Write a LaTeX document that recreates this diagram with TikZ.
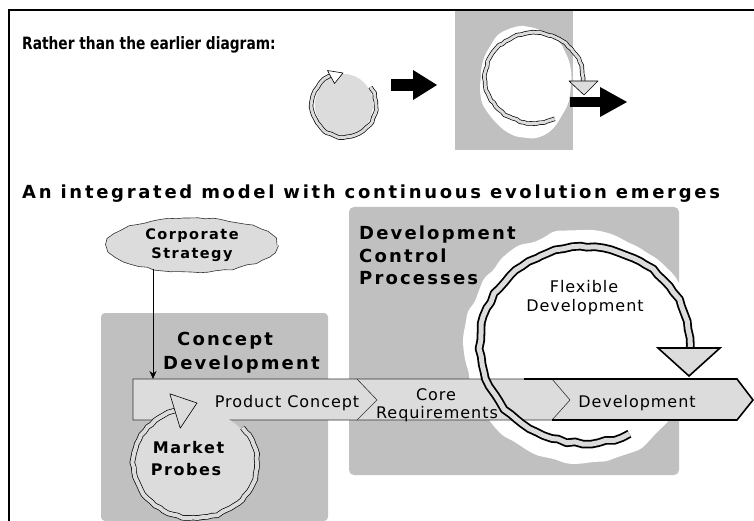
\documentclass[tikz,border=0pt]{standalone}
\usepackage{graphicx}
\usepackage{fontspec}
\setmainfont{DejaVu Sans}
\newfontfamily\ttlA{DejaVu Sans}
\newfontfamily\ttlB[LetterSpace=15]{DejaVu Sans}
\newfontfamily\headfont[LetterSpace=12]{DejaVu Sans}
\newfontfamily\csfont[LetterSpace=10]{DejaVu Sans}
\newfontfamily\labfont[LetterSpace=6]{DejaVu Sans}
\usetikzlibrary{decorations.pathmorphing,shapes.geometric,calc,arrows.meta}
\definecolor{boxgray}{HTML}{C0C0C0}
\definecolor{lite}{HTML}{DCDCDC}
\definecolor{edgec}{HTML}{333333}
\begin{document}
\begin{tikzpicture}[x=1pt,y=-1pt,
  ribbonS/.style={line width=0.7pt, double=lite, double distance=3pt, line join=round,
    decorate, decoration={random steps, segment length=4pt, amplitude=0.8pt}},
  ribbonM/.style={line width=0.7pt, double=lite, double distance=4pt, line join=round,
    decorate, decoration={random steps, segment length=5pt, amplitude=0.9pt}},
  ribbonL/.style={line width=1.8pt, double=lite, double distance=5pt, line join=round,
    decorate, decoration={random steps, segment length=8pt, amplitude=1.1pt}},
  blobfill/.style={decorate, decoration={random steps, segment length=12pt, amplitude=2.5pt}, rounded corners=5pt},
  headtxt/.style={anchor=base west, inner sep=0, font=\headfont\bfseries\fontsize{18}{21}\selectfont},
  labtxt/.style={anchor=base, inner sep=0, font=\labfont\fontsize{16}{18}\selectfont},
  bandsec/.style={fill=lite, draw=edgec, line width=0.6pt, line join=miter},
  headtip/.style={fill=lite, draw=black, line join=round},
  blackarrow/.style={fill=black}
]
\useasboundingbox (0,0) rectangle (754,521);
\fill[white] (0,0) rectangle (754,521);

% frame
\draw[line width=2pt] (8.5,521) -- (8.5,10) -- (754,10);

% ---------- top part ----------
\node[anchor=base west, inner sep=0, font=\ttlA\bfseries\fontsize{17}{20}\selectfont] (t1) at (22,50) {\scalebox{0.81}[1]{Rather than the earlier diagram:}};

% small cycle
\fill[lite] (344,105) ellipse [x radius=29, y radius=31];
\draw[ribbonS] ($(344,105)+(-34:32)$) arc[start angle=-34, end angle=245, radius=32];
\draw[headtip, line width=0.6pt, fill=white] (327.5,70.5) -- (343,73) -- (334.5,83.5) -- cycle;

% black arrow 1
\fill[blackarrow] (391,79) rectangle (414,91);
\fill[blackarrow] (413,70) -- (437,85) -- (413,100) -- cycle;

% gray box with big cycle
\fill[boxgray] (455,11) rectangle (573,150);
\fill[white, blobfill] (526,82) ellipse [x radius=45, y radius=55];
\draw[ribbonS] ($(534,78)+(65:49 and 45)$) arc[start angle=65, end angle=360, x radius=49, y radius=45] -- ++(0,4);
\draw[headtip, line width=0.6pt] (569,81) -- (598,81) -- (584,95) -- cycle;

% black arrow 2
\fill[blackarrow] (570,97) rectangle (601,107);
\fill[blackarrow] (600,87) -- (627,102) -- (600,117) -- cycle;

\node[anchor=base west, inner sep=0, font=\ttlB\bfseries\fontsize{18}{21}\selectfont] (t2) at (22,199) {An integrated model with continuous evolution emerges};

% ---------- lower part ----------
\fill[boxgray, rounded corners=4pt] (101,521) -- (101,313) -- (328,313) -- (328,521) -- cycle;
\fill[boxgray, rounded corners=5pt] (349,207) rectangle (679,475);
\fill[white, blobfill] (580,347) circle [radius=116];

\node[headtxt] (dcp1) at (359,240) {Development};
\node[headtxt] (dcp2) at (359,262) {Control};
\node[headtxt] (dcp3) at (359,284) {Processes};

\node[headtxt] (cd1) at (177,345) {Concept};
\node[headtxt] (cd2) at (163,369) {Development};

% band
\fill[lite] (524,379) -- (737,379) -- (753,400) -- (737,420) -- (524,420) -- cycle;
\draw[bandsec] (357,379) -- (552,379) -- (570,400) -- (552,420) -- (357,420) -- cycle;
\draw[line width=1.6pt, line join=miter] (524,379) -- (737,379) -- (753,400) -- (737,420) -- (552,420);
\draw[bandsec] (133,379) -- (357,379) -- (377,400) -- (357,420) -- (133,420) -- cycle;
\coordinate (pcTop) at (153,379);

\node[labtxt] (pc) at (287,407) {Product Concept};
\node[labtxt] (cr1) at (436,400) {Core};
\node[labtxt] (cr2) at (437,418) {Requirements};
\node[labtxt] (dev) at (637,407) {Development};

% market probes
\fill[lite] (195,463) ellipse [x radius=60, y radius=53];
\draw[ribbonM] ($(195,463)+(-40:62 and 55)$) arc[start angle=-40, end angle=251, x radius=62, y radius=55];
\draw[headtip, line width=0.6pt] (169.8,393.8) -- (197,403) -- (180.2,428.2) -- cycle;
\node[anchor=base, inner sep=0, font=\csfont\bfseries\fontsize{16}{18}\selectfont] (mp1) at (188.5,453) {Market};
\node[anchor=base, inner sep=0, font=\csfont\bfseries\fontsize{16}{18}\selectfont] (mp2) at (186,475) {Probes};

% flexible development cycle
\draw[ribbonL] ($(585,345)+(65:105 and 98)$) arc[start angle=65, end angle=360, x radius=105, y radius=98] -- (690,350);
\draw[headtip, line width=1.6pt, line join=miter] (658,348) -- (720,348) -- (689,376) -- cycle;
\node[labtxt] (fd1) at (584,292) {Flexible};
\node[labtxt] (fd2) at (585,311) {Development};

% corporate strategy
\node[ellipse, minimum width=170, minimum height=54, inner sep=0, fill=lite, draw=edgec, line width=0.6pt,
  decorate, decoration={random steps, segment length=8pt, amplitude=1pt}, align=center,
  font=\csfont\bfseries\fontsize{14.5}{19.5}\selectfont] (cs) at (192,245) {Corporate\\Strategy};
\draw[line width=0.7pt, -{Stealth[length=8pt, width=7pt]}, shorten <=-3pt] (cs.south -| pcTop) -- (pcTop);
\end{tikzpicture}
\end{document}
